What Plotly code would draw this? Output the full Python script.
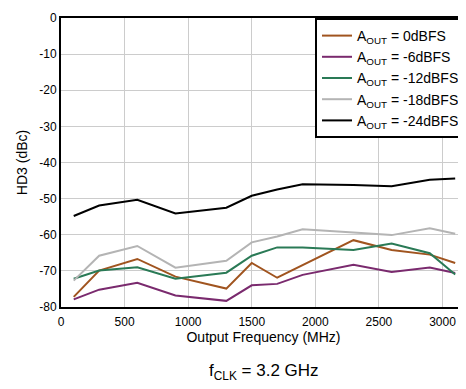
import plotly.graph_objects as go

freq = [100, 300, 600, 900, 1300, 1500, 1700, 1900, 2300, 2600, 2900, 3100]

hd3_0 = [-77.2, -69.9, -66.7, -71.6, -74.9, -67.8, -71.9, -68.5, -61.5, -64.2, -65.5, -67.8]
hd3_6 = [-77.9, -75.2, -73.3, -76.8, -78.3, -74.0, -73.6, -71.1, -68.3, -70.3, -69.1, -70.6]
hd3_12 = [-72.2, -69.9, -69.0, -72.2, -70.5, -65.8, -63.5, -63.5, -64.2, -62.4, -65.1, -71.0]
hd3_18 = [-72.7, -65.8, -63.1, -69.1, -67.2, -62.1, -60.5, -58.5, -59.4, -60.1, -58.2, -59.7]
hd3_24 = [-54.8, -51.9, -50.3, -54.1, -52.5, -49.2, -47.5, -46.0, -46.2, -46.6, -44.8, -44.4]

names = ["A<sub>OUT</sub> = 0dBFS", "A<sub>OUT</sub> = -6dBFS", "A<sub>OUT</sub> = -12dBFS",
         "A<sub>OUT</sub> = -18dBFS", "A<sub>OUT</sub> = -24dBFS"]
colors = ["#A0541F", "#7A2A6E", "#2A7A56", "#B4B4B4", "#000000"]

y_ticks = [0, -10, -20, -30, -40, -50, -60, -70, -80]
y_labels = ["0", "-10", "-20", "-30", "-40", "-50", "-60", "-70", "-80"]
x_ticks = [0, 500, 1000, 1500, 2000, 2500, 3000]

fig = go.Figure()

for name, vals, col in zip(names, [hd3_0, hd3_6, hd3_12, hd3_18, hd3_24], colors):
    fig.add_trace(go.Scatter(
        x=freq, y=vals, name=name, mode="lines",
        line=dict(color=col, width=2)
    ))

# page body has an 8px margin, so the figure is a bit smaller than the window
fig.update_layout(
    width=458, height=381,
    margin=dict(l=53, r=0, t=10, b=82),
    paper_bgcolor="white",
    plot_bgcolor="white",
    font=dict(family="Liberation Sans, Arial, sans-serif", size=12, color="black"),
    showlegend=True,
    legend=dict(
        x=1, y=1, xanchor="right", yanchor="top",
        bgcolor="white", bordercolor="black", borderwidth=2,
        font=dict(size=14)
    ),
    xaxis=dict(
        range=[0, 3185], tickvals=x_ticks,
        showgrid=True, gridcolor="#cccccc", gridwidth=1,
        showline=True, linecolor="black", linewidth=2, mirror=True,
        ticks="", zeroline=False, ticklabelstandoff=3,
        title=dict(text="Output Frequency (MHz)", standoff=0),
    ),
    yaxis=dict(
        range=[-80, 0], tickvals=y_ticks, ticktext=y_labels,
        showgrid=True, gridcolor="#cccccc", gridwidth=1,
        showline=True, linecolor="black", linewidth=2,
        ticks="", zeroline=False,
        title=dict(text="HD3 (dBc)", standoff=8),
    ),
)

fig.add_annotation(
    text="f<sub>CLK</sub> = 3.2 GHz", xref="paper", yref="paper",
    x=0.5, y=-0.225, xanchor="center", yanchor="middle",
    showarrow=False, font=dict(size=17)
)

fig.write_html("out.html")
